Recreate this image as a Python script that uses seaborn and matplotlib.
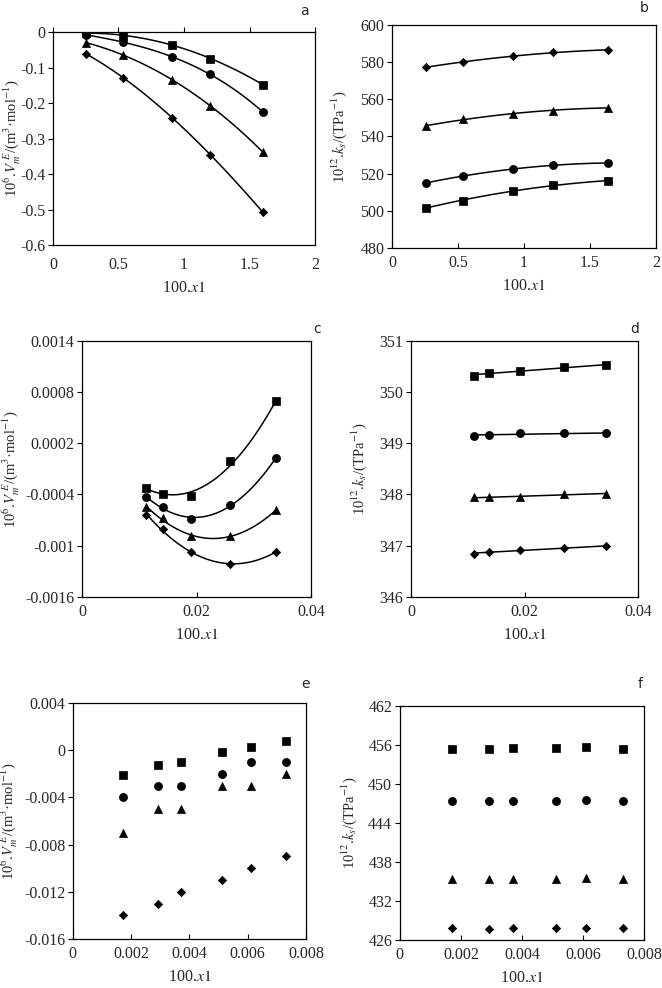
import numpy as np
import matplotlib
matplotlib.use('Agg')
import matplotlib.pyplot as plt
import seaborn as sns
from matplotlib.ticker import FuncFormatter

# ---- panel a: excess molar volume vs 100.x1
xa = [0.25, 0.535, 0.91, 1.20, 1.60]
va_sq = [-0.003, -0.010, -0.036, -0.075, -0.148]
va_ci = [-0.008, -0.028, -0.071, -0.119, -0.225]
va_tr = [-0.030, -0.064, -0.136, -0.207, -0.338]
va_di = [-0.061, -0.129, -0.241, -0.346, -0.507]

# ---- panel b: isentropic compressibility
xb = [0.255, 0.537, 0.915, 1.223, 1.634]
kb_sq = [501.6, 505.5, 510.7, 513.7, 516.2]
kb_ci = [514.9, 518.8, 522.5, 524.4, 525.8]
kb_tr = [545.5, 549.5, 552.2, 553.9, 555.5]
kb_di = [577.3, 580.0, 583.2, 585.2, 586.6]

# ---- panel c
xc = [0.0112, 0.0141, 0.0191, 0.0259, 0.0339]
vc_sq = [-0.00032, -0.00039, -0.00042, -0.00001, 0.00069]
vc_ci = [-0.00043, -0.00055, -0.00069, -0.00052, 0.00003]
vc_tr = [-0.00055, -0.00068, -0.00089, -0.00089, -0.00058]
vc_di = [-0.00064, -0.00081, -0.00108, -0.00122, -0.00107]

# ---- panel d
xd = [0.0111, 0.0138, 0.0191, 0.0269, 0.0344]
kd_sq = [350.32, 350.37, 350.42, 350.49, 350.52]
kd_ci = [349.14, 349.17, 349.20, 349.19, 349.19]
kd_tr = [347.94, 347.94, 347.95, 348.01, 348.01]
kd_di = [346.84, 346.88, 346.91, 346.95, 346.99]

# ---- panel e
xe = [0.00172, 0.00292, 0.00372, 0.00513, 0.00612, 0.00731]
ve_sq = [-0.0021, -0.0013, -0.0010, -0.0002, 0.0003, 0.0008]
ve_ci = [-0.004, -0.003, -0.003, -0.002, -0.001, -0.001]
ve_tr = [-0.007, -0.005, -0.005, -0.003, -0.003, -0.002]
ve_di = [-0.014, -0.013, -0.012, -0.011, -0.010, -0.009]

# ---- panel f
xf = [0.00171, 0.00292, 0.0037, 0.0051, 0.0061, 0.0073]
kf_sq = [455.4, 455.4, 455.5, 455.5, 455.6, 455.4]
kf_ci = [447.4, 447.3, 447.4, 447.4, 447.5, 447.4]
kf_tr = [435.3, 435.3, 435.4, 435.4, 435.5, 435.3]
kf_di = [427.8, 427.7, 427.8, 427.9, 427.9, 427.9]

sns.set_theme(style='white')
plt.rcParams['font.family'] = ['Liberation Serif', 'DejaVu Serif']
plt.rcParams['mathtext.fontset'] = 'stix'
plt.rcParams['axes.unicode_minus'] = False

VLABEL = r'10$^{6}$.$V_m^{\ E}$/(m$^{3}$·mol$^{-1}$)'
KLABEL = r'10$^{12}$.$k_s$/(TPa$^{-1}$)'
XLABEL = r'100.$x1$'

markers = [('s', 32), ('o', 34), ('^', 34), ('D', 18)]

fig = plt.figure(figsize=(6.62, 9.88), dpi=100)


def panel(rect, x, series, deg, xlim, xticks, ylim, yticks, ylabel, ylab_x,
          top_axis=False):
    ax = fig.add_axes(rect)
    for (m, s), y in zip(markers, series):
        if deg:
            xs = np.linspace(x[0], x[-1], 120)
            ys = np.polyval(np.polyfit(x, y, deg), xs)
            sns.lineplot(x=xs, y=ys, color='black', lw=1.1, ax=ax)
        sns.scatterplot(x=x, y=y, marker=m, s=s, color='black',
                        edgecolor='black', linewidth=0.5, ax=ax, zorder=3)
    ax.set_xlim(xlim)
    ax.set_ylim(ylim)
    ax.set_xticks(xticks)
    ax.set_yticks(yticks)
    fmt = FuncFormatter(lambda v, p: '%g' % v)
    ax.xaxis.set_major_formatter(fmt)
    ax.yaxis.set_major_formatter(fmt)
    for sp in ax.spines.values():
        sp.set_color('black')
        sp.set_linewidth(0.9)
    ax.tick_params(axis='y', direction='out', length=3.5, width=0.8,
                   color='black', labelsize=11.5, left=True, pad=2)
    if top_axis:
        ax.tick_params(axis='x', bottom=False, top=True, labelbottom=True,
                       direction='out', length=3.5, width=0.8, color='black',
                       labelsize=11.5, pad=5)
    else:
        ax.tick_params(axis='x', bottom=True, direction='in', length=3.5,
                       width=0.8, color='black', labelsize=11.5, pad=5)
    ax.set_xlabel(XLABEL, fontsize=11.5, labelpad=5)
    ax.set_ylabel(ylabel, fontsize=10.5)
    # coordinate is the right edge of the rotated label
    ax.yaxis.set_label_coords(ylab_x, 0.5)
    ax.grid(False)
    return ax


panel([0.080, 0.752, 0.396, 0.2156], xa, [va_sq, va_ci, va_tr, va_di], 3,
      (0, 2), [0, 0.5, 1, 1.5, 2], (-0.6, 0),
      [-0.6, -0.5, -0.4, -0.3, -0.2, -0.1, 0], VLABEL, -0.116, top_axis=True)
panel([0.592, 0.749, 0.399, 0.2257], xb, [kb_sq, kb_ci, kb_tr, kb_di], 2,
      (0, 2), [0, 0.5, 1, 1.5, 2], (480, 600),
      [480, 500, 520, 540, 560, 580, 600], KLABEL, -0.163)
panel([0.124, 0.396, 0.346, 0.259], xc, [vc_sq, vc_ci, vc_tr, vc_di], 2,
      (0, 0.04), [0, 0.02, 0.04], (-0.0016, 0.0014),
      [-0.0016, -0.001, -0.0004, 0.0002, 0.0008, 0.0014], VLABEL, -0.264)
panel([0.621, 0.396, 0.343, 0.259], xd, [kd_sq, kd_ci, kd_tr, kd_di], 1,
      (0, 0.04), [0, 0.02, 0.04], (346, 351),
      [346, 347, 348, 349, 350, 351], KLABEL, -0.185)
panel([0.110, 0.0496, 0.352, 0.239], xe, [ve_sq, ve_ci, ve_tr, ve_di], 0,
      (0, 0.008), [0, 0.002, 0.004, 0.006, 0.008], (-0.016, 0.004),
      [-0.016, -0.012, -0.008, -0.004, 0, 0.004], VLABEL, -0.225)
panel([0.604, 0.0486, 0.369, 0.237], xf, [kf_sq, kf_ci, kf_tr, kf_di], 0,
      (0, 0.008), [0, 0.002, 0.004, 0.006, 0.008], (426, 462),
      [426, 432, 438, 444, 450, 456, 462], KLABEL, -0.168)

# panel letters
for lab, px, py in [('a', 304, 11), ('b', 644, 8), ('c', 317, 329),
                    ('d', 635, 329), ('e', 305, 684), ('f', 640, 684)]:
    fig.text(px / 662, 1 - py / 988, lab, fontsize=10, ha='center', va='center',
             family=['DejaVu Sans'])

fig.savefig('out.png', dpi=100)
